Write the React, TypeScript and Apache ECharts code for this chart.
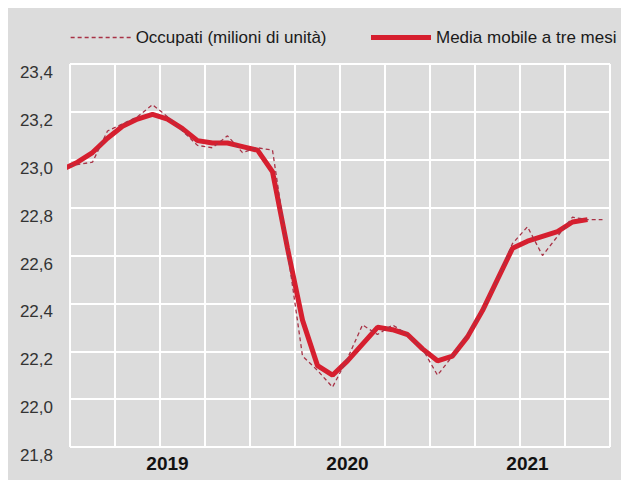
import React, { useEffect, useRef } from "react";
import * as echarts from "echarts";

// Monthly observations, Dec 2018 .. Dec 2021 (Dec 2018 lies just left of the plot and is clipped)
const months = [
  "2018-12",
  "2019-01", "2019-02", "2019-03", "2019-04", "2019-05", "2019-06",
  "2019-07", "2019-08", "2019-09", "2019-10", "2019-11", "2019-12",
  "2020-01", "2020-02", "2020-03", "2020-04", "2020-05", "2020-06",
  "2020-07", "2020-08", "2020-09", "2020-10", "2020-11", "2020-12",
  "2021-01", "2021-02", "2021-03", "2021-04", "2021-05", "2021-06",
  "2021-07", "2021-08", "2021-09", "2021-10", "2021-11", "2021-12",
];

// Occupati (milioni di unità)
const occupati = [
  22.97,
  22.98, 22.99, 23.12, 23.15, 23.18, 23.23,
  23.18, 23.12, 23.06, 23.05, 23.10, 23.03,
  23.05, 23.04, 22.62, 22.18, 22.12, 22.05,
  22.17, 22.31, 22.27, 22.31, 22.27, 22.21,
  22.10, 22.18, 22.27, 22.37, 22.50, 22.65,
  22.72, 22.60, 22.68, 22.76, 22.75, 22.75,
];

// Media mobile a tre mesi (ends Nov 2021)
const mediaMobile = [
  22.96,
  22.99, 23.03, 23.09, 23.14, 23.17, 23.19,
  23.17, 23.13, 23.08, 23.07, 23.07, 23.055,
  23.04, 22.95, 22.63, 22.33, 22.14, 22.10,
  22.16, 22.23, 22.30, 22.29, 22.27, 22.21,
  22.16, 22.18, 22.26, 22.37, 22.50, 22.63,
  22.66, 22.68, 22.70, 22.74, 22.75,
];

const seriesNames = ["Occupati (milioni di unità)", "Media mobile a tre mesi"];
const yMin = 21.8;
const yMax = 23.4;
const yStep = 0.2;
const labelMonth = "07"; // year label sits under July

const FONT = "'Liberation Sans', Arial, Helvetica, sans-serif";
const THICK = "#d61f2f";
const DASHED = "#a83246";

export default function App() {
  const ref = useRef<HTMLDivElement>(null);

  useEffect(() => {
    if (!ref.current) return;
    const chart = echarts.init(ref.current, undefined, { renderer: "svg" });
    const axisMonths = months.slice(1);
    const xOf = (i: number) => i - 0.5; // index in months -> position (month centre)

    chart.setOption({
      animation: false,
      backgroundColor: "#dcdcdc",
      textStyle: { fontFamily: FONT },
      legend: {
        left: 57,
        top: 16,
        width: 600,
        padding: 5,
        itemWidth: 60,
        itemHeight: 14,
        itemGap: 42,
        itemStyle: { opacity: 0 },
        data: [
          { name: seriesNames[0], lineStyle: { width: 1.3, color: DASHED, type: [4, 3] } },
          { name: seriesNames[1], lineStyle: { width: 5, color: THICK } },
        ],
        textStyle: { fontSize: 17, color: "#1a1a1a", fontFamily: FONT },
      },
      grid: { left: 62, right: 11, top: 56, bottom: 33, containLabel: false },
      xAxis: [
        {
          type: "value",
          min: 0,
          max: axisMonths.length,
          interval: 3,
          position: "top",
          axisLabel: { show: false },
          axisLine: { show: false },
          axisTick: { show: false },
          splitLine: { show: true, lineStyle: { color: "#ffffff", width: 2 } },
        },
        {
          type: "category",
          data: axisMonths,
          boundaryGap: true,
          position: "bottom",
          axisLine: { show: false },
          axisTick: { show: false },
          splitLine: { show: false },
          axisLabel: {
            interval: 0,
            margin: 7,
            fontSize: 19,
            fontWeight: "bold",
            color: "#111",
            fontFamily: FONT,
            formatter: (v: string) => (v.slice(5) === labelMonth ? v.slice(0, 4) : ""),
          },
        },
      ],
      yAxis: {
        type: "value",
        min: yMin,
        max: yMax,
        interval: yStep,
        axisLine: { show: false },
        axisTick: { show: false },
        axisLabel: {
          margin: 17,
          fontSize: 17,
          color: "#333",
          verticalAlign: "top",
          fontFamily: FONT,
          formatter: (v: number) => v.toFixed(1).replace(".", ","),
        },
        splitLine: { show: true, lineStyle: { color: "#ffffff", width: 2 } },
      },
      series: [
        {
          name: seriesNames[1],
          type: "line",
          xAxisIndex: 0,
          symbol: "none",
          clip: true,
          z: 2,
          data: mediaMobile.map((v, i) => [xOf(i), v]),
          lineStyle: { color: THICK, width: 5 },
          itemStyle: { color: THICK },
        },
        {
          name: seriesNames[0],
          type: "line",
          xAxisIndex: 0,
          symbol: "none",
          clip: true,
          z: 3,
          data: occupati.map((v, i) => [xOf(i), v]),
          lineStyle: { color: DASHED, width: 1.3, type: [4, 3] },
          itemStyle: { color: DASHED },
        },
      ],
    });

    return () => chart.dispose();
  }, []);

  return (
    <div
      ref={ref}
      style={{ position: "absolute", left: 8, top: 8, width: 613, height: 472 }}
    />
  );
}
